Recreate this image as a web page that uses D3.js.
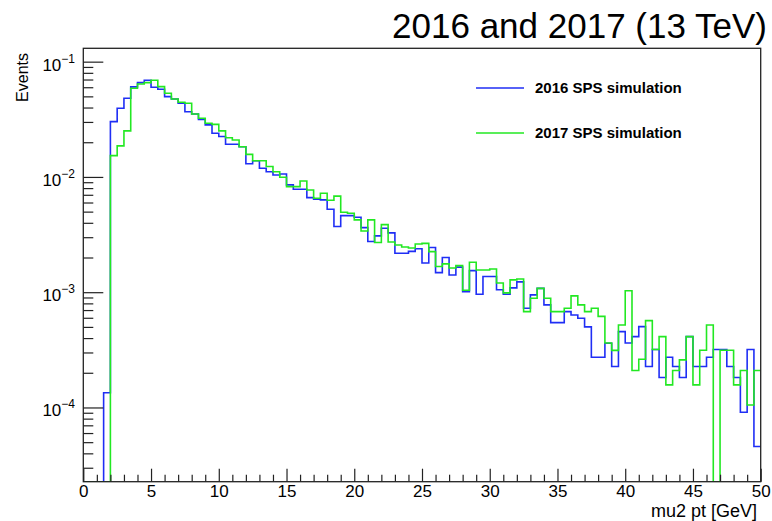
<!DOCTYPE html>
<html>
<head>
<meta charset="utf-8">
<script src="https://cdn.jsdelivr.net/npm/d3@7"></script>
<style>
  body { margin: 0; background: #fff; }
  svg { display: block; }
  text { font-family: "Liberation Sans", Arial, Helvetica, sans-serif; fill: #000; }
</style>
</head>
<body>
<svg id="chart" width="772" height="521"></svg>
<script>
// Histogram binning: 100 bins of 0.5 GeV between 0 and 50 GeV
const binWidth = 0.5;
const xDomain = [0, 50];
const yDomain = [2.27e-5, 0.1306];

const xMajorTicks = [0, 5, 10, 15, 20, 25, 30, 35, 40, 45, 50];
const yDecadeTicks = [1e-4, 1e-3, 1e-2, 1e-1];
const yDecadeExponents = ["−4", "−3", "−2", "−1"];

const seriesNames = ["2016 SPS simulation", "2017 SPS simulation"];
const seriesColors = ["#1f2ef5", "#22e822"];

// Normalised event fractions per bin (bin 0 = [0, 0.5) GeV)
const sps2016 = [
  0, 0, 0, 1.34e-4, 0.0302, 0.0394, 0.0482, 0.0604, 0.0658, 0.0690,
  0.0600, 0.0576, 0.0497, 0.0475, 0.0436, 0.0368, 0.0352, 0.0316, 0.0283, 0.0239,
  0.0224, 0.0192, 0.0192, 0.0183, 0.0130, 0.0138, 0.0119, 0.0111, 0.0104, 0.0106,
  0.00853, 0.00782, 0.00782, 0.00661, 0.00641, 0.00632, 0.00525, 0.00371, 0.00462, 0.00462,
  0.00447, 0.00363, 0.00275, 0.00308, 0.00359, 0.00327, 0.00218, 0.00218, 0.00226, 0.00238,
  0.00179, 0.00244, 0.00148, 0.00200, 0.00141, 0.00165, 0.00101, 0.00154, 0.000961, 0.00137,
  0.00137, 0.00105, 0.000961, 0.00109, 0.00123, 0.000726, 0.000948, 0.00108, 0.000776, 0.000545,
  0.000545, 0.000679, 0.000635, 0.000594, 0.000500, 0.000273, 0.000273, 0.000361, 0.000227, 0.000455,
  0.000363, 0.000412, 0.000503, 0.000227, 0.000318, 0.000182, 0.000273, 0.000227, 0.000182, 0.000412,
  0.000227, 0.000227, 0.000273, 0.000318, 0.000318, 0.000227, 0.000182, 0.0000910, 0.000318, 0.0000458
];
const sps2017 = [
  0, 0, 0, 0, 0.0153, 0.0186, 0.0251, 0.0588, 0.0641, 0.0658,
  0.0690, 0.0607, 0.0532, 0.0475, 0.0445, 0.0436, 0.0352, 0.0323, 0.0292, 0.0286,
  0.0251, 0.0219, 0.0209, 0.0183, 0.0157, 0.0138, 0.0138, 0.0123, 0.0111, 0.00993,
  0.00824, 0.00824, 0.00923, 0.00771, 0.00653, 0.00722, 0.00628, 0.00681, 0.00494, 0.00484,
  0.00424, 0.00340, 0.00424, 0.00270, 0.00386, 0.00273, 0.00257, 0.00247, 0.00242, 0.00262,
  0.00265, 0.00225, 0.00167, 0.00176, 0.00162, 0.00170, 0.00104, 0.00182, 0.00156, 0.00156,
  0.00159, 0.00120, 0.000986, 0.00128, 0.00130, 0.000679, 0.000887, 0.00108, 0.000887, 0.000679,
  0.000679, 0.000726, 0.000929, 0.000776, 0.000679, 0.000726, 0.000617, 0.000363, 0.000313, 0.000520,
  0.00103, 0.000209, 0.000262, 0.000567, 0.000318, 0.000412, 0.000157, 0.000209, 0.000259, 0.000412,
  0.000157, 0.000314, 0.000520, 0, 0.000314, 0.000314, 0.000157, 0.000209, 0.000105, 0.000209
];

const frame = { left: 83.3, right: 760.7, top: 48.3, bottom: 481.7 };

const svg = d3.select("#chart");

const x = d3.scaleLinear().domain(xDomain).range([frame.left, frame.right]);
const y = d3.scaleLog().domain(yDomain).range([frame.bottom, frame.top]).clamp(true);

// Clip region for the histograms
svg.append("defs").append("clipPath").attr("id", "plot-clip")
  .append("rect")
  .attr("x", frame.left).attr("y", frame.top)
  .attr("width", frame.right - frame.left).attr("height", frame.bottom - frame.top);

// Step outline of a histogram; empty bins fall to the bottom of the frame
function stepPoints(values) {
  const pts = values.map((v, i) => [i * binWidth, v > 0 ? v : yDomain[0] / 10]);
  pts.push([values.length * binWidth, pts[pts.length - 1][1]]);
  return pts;
}
const stepLine = d3.line()
  .x(d => x(d[0]))
  .y(d => y(d[1]))
  .curve(d3.curveStepAfter);

const plot = svg.append("g").attr("clip-path", "url(#plot-clip)");
[sps2016, sps2017].forEach((vals, k) => {
  plot.append("path")
    .datum(stepPoints(vals))
    .attr("d", stepLine)
    .attr("fill", "none")
    .attr("stroke", seriesColors[k])
    .attr("stroke-width", 1.6)
    .attr("stroke-linejoin", "miter");
});

// X axis: major ticks every 5, minor every 1, drawn inward
const xMinor = d3.range(xDomain[0], xDomain[1] + 1, 1).filter(v => v % 5 !== 0);
svg.append("g")
  .attr("transform", `translate(0,${frame.bottom})`)
  .call(d3.axisBottom(x).tickValues(xMinor).tickSize(-7).tickFormat("").tickSizeOuter(0))
  .call(g => g.select(".domain").remove());
const xAxis = svg.append("g")
  .attr("transform", `translate(0,${frame.bottom})`)
  .call(d3.axisBottom(x).tickValues(xMajorTicks).tickSize(-13).tickPadding(3).tickSizeOuter(0));
xAxis.select(".domain").remove();
xAxis.selectAll("text").attr("font-size", 17).attr("font-family", "Liberation Sans, Arial, sans-serif");

// Y axis: decades with minor ticks at 2..9
const yMinor = [];
yDecadeTicks.concat([1e-5]).forEach(d => {
  for (let m = 2; m <= 9; m++) {
    const v = d * m;
    if (v >= yDomain[0] && v <= yDomain[1]) yMinor.push(v);
  }
});
svg.append("g")
  .attr("transform", `translate(${frame.left},0)`)
  .call(d3.axisLeft(y).tickValues(yMinor).tickSize(-10).tickFormat("").tickSizeOuter(0))
  .call(g => g.select(".domain").remove());
svg.append("g")
  .attr("transform", `translate(${frame.left},0)`)
  .call(d3.axisLeft(y).tickValues(yDecadeTicks).tickSize(-20).tickFormat("").tickSizeOuter(0))
  .call(g => g.select(".domain").remove());
svg.selectAll(".tick line").attr("stroke", "#222").attr("stroke-width", 1.2);

// Decade labels written as 10 with a superscript exponent
const yLabels = svg.append("g");
yDecadeTicks.forEach((v, i) => {
  const t = yLabels.append("text")
    .attr("x", 75)
    .attr("y", y(v) + 9)
    .attr("text-anchor", "end")
    .attr("font-size", 17);
  t.append("tspan").text("10");
  t.append("tspan").attr("dy", -8).attr("font-size", 12).text(yDecadeExponents[i]);
});

// Frame
svg.append("rect")
  .attr("x", frame.left).attr("y", frame.top)
  .attr("width", frame.right - frame.left).attr("height", frame.bottom - frame.top)
  .attr("fill", "none").attr("stroke", "#222").attr("stroke-width", 1.3);

// Axis titles
svg.append("text")
  .attr("x", 757).attr("y", 517)
  .attr("text-anchor", "end").attr("font-size", 18)
  .text("mu2 pt [GeV]");
svg.append("text")
  .attr("transform", "translate(28,53) rotate(-90)")
  .attr("text-anchor", "end").attr("font-size", 16)
  .text("Events");

// Title
svg.append("text")
  .attr("x", 767).attr("y", 38)
  .attr("text-anchor", "end").attr("font-size", 35)
  .text("2016 and 2017 (13 TeV)");

// Legend
const legendRows = [88, 133];
seriesNames.forEach((name, k) => {
  svg.append("line")
    .attr("x1", 476).attr("x2", 524)
    .attr("y1", legendRows[k]).attr("y2", legendRows[k])
    .attr("stroke", seriesColors[k]).attr("stroke-width", 1.6);
  svg.append("text")
    .attr("x", 535).attr("y", legendRows[k] + 5)
    .attr("font-size", 15).attr("font-weight", "bold")
    .text(name);
});
</script>
</body>
</html>
